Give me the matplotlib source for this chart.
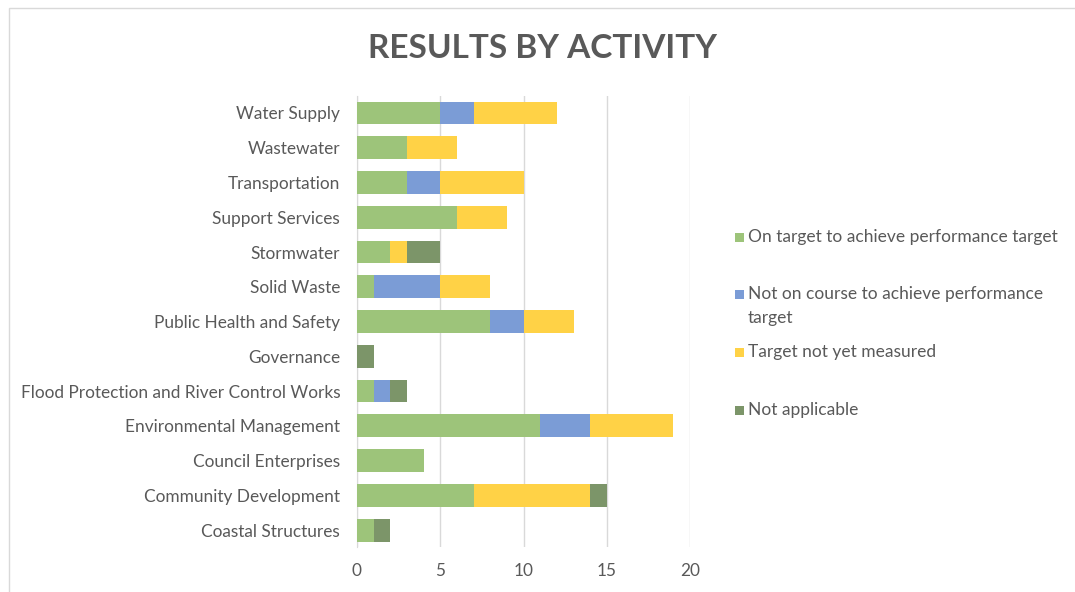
import matplotlib
matplotlib.use('Agg')
import matplotlib.pyplot as plt
import matplotlib.patches as mpatches
import numpy as np

plt.rcParams['font.family'] = ['Lato', 'DejaVu Sans']

activities = ['Water Supply', 'Wastewater', 'Transportation', 'Support Services',
              'Stormwater', 'Solid Waste', 'Public Health and Safety', 'Governance',
              'Flood Protection and River Control Works', 'Environmental Management',
              'Council Enterprises', 'Community Development', 'Coastal Structures']
on_target     = [5, 3, 3, 6, 2, 1, 8, 0, 1, 11, 4, 7, 1]
not_on_course = [2, 0, 2, 0, 0, 4, 2, 0, 1, 3, 0, 0, 0]
not_measured  = [5, 3, 5, 3, 1, 3, 3, 0, 0, 5, 0, 7, 0]
not_applic    = [0, 0, 0, 0, 2, 0, 0, 1, 1, 0, 0, 1, 1]

series = [
    (['On target to achieve performance target'], on_target, '#9DC47A'),
    (['Not on course to achieve performance', 'target'], not_on_course, '#7B9CD6'),
    (['Target not yet measured'], not_measured, '#FFD246'),
    (['Not applicable'], not_applic, '#7C9569'),
]

TEXT = '#595959'
GRID = '#D9D9D9'
W, H = 1075, 592

fig = plt.figure(figsize=(10.75, 5.92), dpi=100)
ax = fig.add_axes([0.332, 0.0753, 0.310, 0.7632])

y = np.arange(len(activities))
left = np.zeros(len(activities))
for label, vals, col in series:
    vals = np.array(vals, dtype=float)
    ax.barh(y, vals, left=left, height=0.66, color=col, edgecolor='none', zorder=3)
    left += vals

ax.set_xlim(0, 20)
ax.set_ylim(len(activities) - 0.5, -0.5)
ax.set_xticks([0, 5, 10, 15, 20])
ax.set_yticks(y)
ax.set_yticklabels(activities)
ax.tick_params(length=0, labelsize=12.4, colors=TEXT)
ax.tick_params(axis='x', pad=11)
ax.tick_params(axis='y', pad=12)
ax.grid(axis='x', color=GRID, linewidth=1, zorder=0)
for s in ['top', 'right', 'bottom']:
    ax.spines[s].set_visible(False)
ax.spines['left'].set_color(GRID)

# legend drawn by hand to follow the uneven Excel spacing
leg_rows = [237, 294, 352, 410]
for (lines, vals, col), py in zip(series, leg_rows):
    fig.patches.append(mpatches.Rectangle((735 / W, 1 - (py + 5) / H), 9 / W, 9 / H,
                                          transform=fig.transFigure, facecolor=col,
                                          edgecolor='none'))
    for i, line in enumerate(lines):
        fig.text(748 / W, 1 - (py + 24 * i) / H, line, ha='left', va='center',
                 fontsize=12.5, color=TEXT)

fig.text(0.505, 1 - 48 / H, 'RESULTS BY ACTIVITY', ha='center', va='center',
         fontsize=24, fontweight='bold', color=TEXT)

fig.patches.append(mpatches.Rectangle((0.008, -0.01), 1.0, 0.997,
                                      transform=fig.transFigure, fill=False,
                                      edgecolor=GRID, linewidth=1))

plt.savefig('out.png', dpi=100)
plt.close()
